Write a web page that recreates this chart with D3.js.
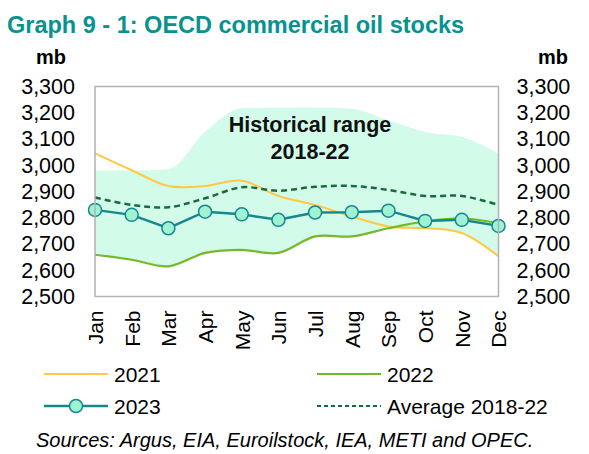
<!DOCTYPE html>
<html>
<head>
<meta charset="utf-8">
<script src="https://cdn.jsdelivr.net/npm/d3@7"></script>
<style>
  html, body { margin: 0; padding: 0; background: #fff; }
  svg { display: block; font-family: "Liberation Sans", Arial, sans-serif; }
</style>
</head>
<body>
<svg id="chart" width="589" height="454"></svg>
<script>
const months = ["Jan","Feb","Mar","Apr","May","Jun","Jul","Aug","Sep","Oct","Nov","Dec"];
const yTicks = [2500, 2600, 2700, 2800, 2900, 3000, 3100, 3200, 3300];
const rangeMax = [2980, 2980, 2985, 3127, 3217, 3219, 3220, 3215, 3171, 3127, 3108, 3045];
const rangeMin = [2659, 2640, 2615, 2666, 2678, 2666, 2729, 2729, 2760, 2760, 2742, 2653];
const s2021 = [3045, 2981, 2921, 2921, 2941, 2883, 2849, 2805, 2767, 2760, 2742, 2653];
const s2022 = [2659, 2640, 2615, 2666, 2678, 2666, 2729, 2729, 2760, 2786, 2798, 2779];
const s2023 = [2830, 2811, 2760, 2823, 2813, 2792, 2820, 2821, 2827, 2788, 2792, 2769];
const avg1822 = [2877, 2849, 2840, 2874, 2916, 2903, 2918, 2921, 2906, 2883, 2883, 2849];

const svg = d3.select("#chart");
const L = 95, R = 498.5, T = 86.5, B = 296.5;

const x = d3.scalePoint().domain(months).range([L, R]);
const y = d3.scaleLinear().domain([2500, 3300]).range([B, T]);

// Title
svg.append("text").attr("x", 7).attr("y", 33)
  .attr("font-size", 23.5).attr("font-weight", "bold").attr("fill", "#079290")
  .text("Graph 9 - 1: OECD commercial oil stocks");

// Units
svg.append("text").attr("x", 51).attr("y", 64).attr("text-anchor", "middle")
  .attr("font-size", 20).attr("font-weight", "bold").attr("fill", "#000").text("mb");
svg.append("text").attr("x", 553).attr("y", 64).attr("text-anchor", "middle")
  .attr("font-size", 20).attr("font-weight", "bold").attr("fill", "#000").text("mb");

// Band
const band = d3.area()
  .x((d, i) => x(months[i]))
  .y0((d, i) => y(rangeMin[i]))
  .y1((d, i) => y(rangeMax[i]))
  .curve(d3.curveMonotoneX);
svg.append("path").datum(months).attr("d", band).attr("fill", "#d3fbea");

const line = d3.line().x((d, i) => x(months[i])).y(d => y(d));

svg.append("path").datum(s2021)
  .attr("d", line.curve(d3.curveCatmullRom.alpha(0.5)))
  .attr("fill", "none").attr("stroke", "#ffc845").attr("stroke-width", 2);
svg.append("path").datum(s2022)
  .attr("d", line.curve(d3.curveCatmullRom.alpha(0.5)))
  .attr("fill", "none").attr("stroke", "#76b82a").attr("stroke-width", 2.2);
svg.append("path").datum(avg1822)
  .attr("d", line.curve(d3.curveCatmullRom.alpha(0.5)))
  .attr("fill", "none").attr("stroke", "#1a6b3c").attr("stroke-width", 2.5)
  .attr("stroke-dasharray", "6,4");
svg.append("path").datum(s2023)
  .attr("d", line.curve(d3.curveLinear))
  .attr("fill", "none").attr("stroke", "#17878f").attr("stroke-width", 2.5);
svg.selectAll("circle.m23").data(s2023).enter().append("circle")
  .attr("class", "m23")
  .attr("cx", (d, i) => x(months[i])).attr("cy", d => y(d)).attr("r", 6.5)
  .attr("fill", "#9ff3d3").attr("stroke", "#17878f").attr("stroke-width", 1.5);

// Frame
svg.append("rect").attr("x", L).attr("y", T).attr("width", R - L).attr("height", B - T)
  .attr("fill", "none").attr("stroke", "#b3b3b3").attr("stroke-width", 1.5);

// Axes
const fmt = d3.format(",");
const yl = svg.append("g").attr("transform", `translate(${L},0)`)
  .call(d3.axisLeft(y).tickValues(yTicks).tickFormat(fmt).tickSize(0).tickPadding(20));
const yr = svg.append("g").attr("transform", `translate(${R},0)`)
  .call(d3.axisRight(y).tickValues(yTicks).tickFormat(fmt).tickSize(0).tickPadding(18));
[yl, yr].forEach(g => {
  g.select(".domain").remove();
  g.selectAll("text").attr("font-size", 21.5).attr("fill", "#000")
    .attr("font-family", "Liberation Sans, Arial, sans-serif");
});

const xa = svg.append("g").attr("transform", `translate(0,${B})`)
  .call(d3.axisBottom(x).tickSize(0));
xa.select(".domain").remove();
xa.selectAll("text")
  .attr("font-size", 21).attr("fill", "#000")
  .attr("font-family", "Liberation Sans, Arial, sans-serif")
  .attr("transform", "rotate(-90)")
  .attr("text-anchor", "end")
  .attr("x", -14).attr("y", 0).attr("dy", "0.35em");

// Annotation
const ann = svg.append("text").attr("text-anchor", "middle")
  .attr("font-size", 21.5).attr("font-weight", "bold").attr("fill", "#111");
ann.append("tspan").attr("x", 310).attr("y", 132).text("Historical range");
ann.append("tspan").attr("x", 310).attr("y", 159).text("2018-22");

// Legend
const lg = svg.append("g");
const items = [
  {name: "2021", x: 44, y: 374, color: "#ffc845", dash: null, marker: false, w: 2},
  {name: "2022", x: 317, y: 374, color: "#76b82a", dash: null, marker: false, w: 2.2},
  {name: "2023", x: 44, y: 406, color: "#17878f", dash: null, marker: true, w: 2.5},
  {name: "Average 2018-22", x: 317, y: 406, color: "#1a6b3c", dash: "4,3", marker: false, w: 2}
];
items.forEach(it => {
  lg.append("line").attr("x1", it.x).attr("x2", it.x + 64).attr("y1", it.y).attr("y2", it.y)
    .attr("stroke", it.color).attr("stroke-width", it.w).attr("stroke-dasharray", it.dash);
  if (it.marker) {
    lg.append("circle").attr("cx", it.x + 32).attr("cy", it.y).attr("r", 6.5)
      .attr("fill", "#9ff3d3").attr("stroke", "#17878f").attr("stroke-width", 1.5);
  }
  lg.append("text").attr("x", it.x + 70).attr("y", it.y).attr("dy", "0.36em")
    .attr("font-size", 21).attr("fill", "#000").text(it.name);
});

// Sources
svg.append("text").attr("x", 36).attr("y", 447)
  .attr("font-size", 20).attr("font-style", "italic").attr("fill", "#000")
  .text("Sources: Argus, EIA, Euroilstock, IEA, METI and OPEC.");
</script>
</body>
</html>
